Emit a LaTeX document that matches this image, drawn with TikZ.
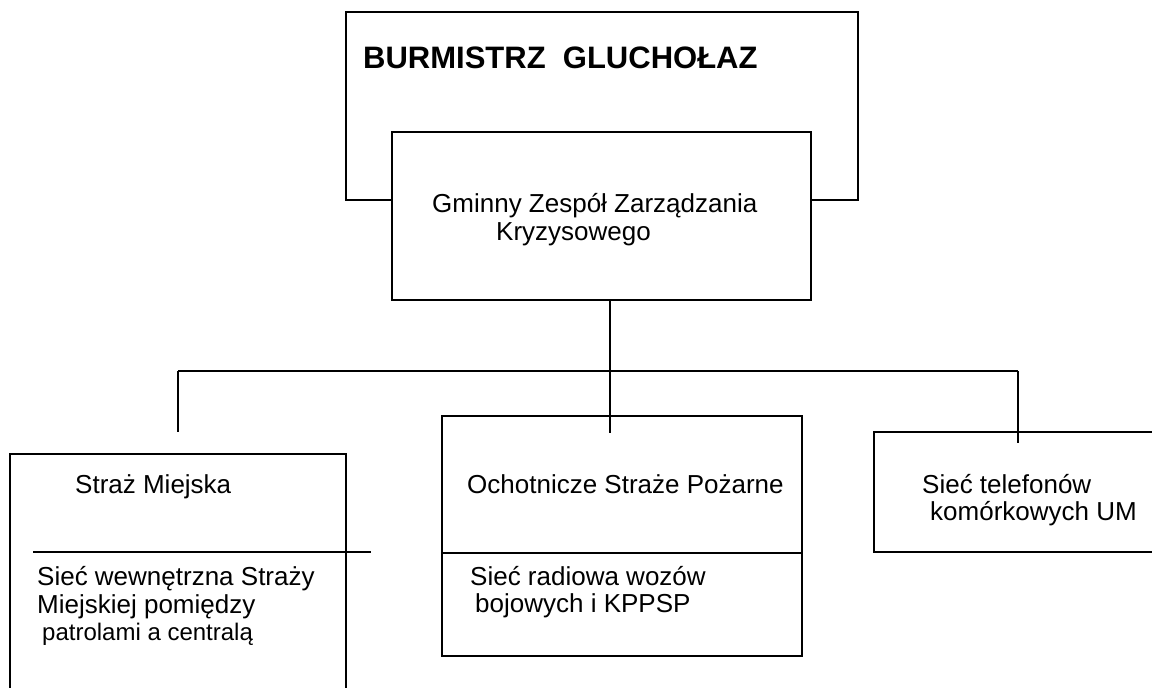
\documentclass[tikz,border=0pt]{standalone}
\usepackage{fontspec}
\setmainfont{Liberation Sans}
\begin{document}
\begin{tikzpicture}[x=1pt,y=-1pt,
  ln/.style={line width=2pt,black},
  boxn/.style={draw,line width=2pt,rectangle,inner sep=0pt,outer sep=0pt,anchor=north west},
  txt/.style={anchor=base west,inner sep=0pt,font=\fontsize{26}{30}\selectfont},
  txts/.style={anchor=base west,inner sep=0pt,font=\fontsize{24}{28}\selectfont},
  ttl/.style={anchor=base west,inner sep=0pt,font=\fontsize{31}{36}\selectfont\bfseries}]
\useasboundingbox (0,0) rectangle (1152,688);
\clip (0,0) rectangle (1152,688);
% top boxes
\node[boxn,minimum width=512pt,minimum height=188pt] (burm) at (346,12) {};
\node[boxn,fill=white,minimum width=419pt,minimum height=168pt] (zzk) at (392,132) {};
\node[ttl] (burmt) at (363,68) {BURMISTRZ\ \ GLUCHOŁAZ};
\node[txt] (zzkt1) at (432,212) {Gminny Zespół Zarządzania};
\node[txt] (zzkt2) at (496,240) {Kryzysowego};
% bottom boxes
\node[boxn,minimum width=336pt,minimum height=260pt] (sm) at (10,454) {};
\node[boxn,minimum width=360pt,minimum height=240pt] (osp) at (442,416) {};
\node[boxn,minimum width=300pt,minimum height=120pt] (tel) at (874,432) {};
% connectors
\coordinate (hub) at (610,371);
\coordinate (eL) at (178,432);
\coordinate (eM) at (610,433);
\coordinate (eR) at (1018,443);
\draw[ln] (hub |- zzk.south) -- (eM);
\draw[ln] (eL |- hub) -- (eR |- hub);
\draw[ln] (eL |- hub) -- (eL);
\draw[ln] (eR |- hub) -- (eR);
% dividers
\coordinate (dL1) at (33,552);
\coordinate (dL2) at (371,552);
\draw[ln] (dL1) -- (dL2);
\draw[ln] (osp.west |- 0,553) -- (osp.east |- 0,553);
% texts
\node[txt] (smt) at (75,493) {Straż Miejska};
\node[txt] (smt1) at (37,585) {Sieć wewnętrzna Straży};
\node[txt] (smt2) at (37,613) {Miejskiej pomiędzy};
\node[txts] (smt3) at (42,640) {patrolami a centralą};
\node[txt] (ospt) at (467,493) {Ochotnicze Straże Pożarne};
\node[txt] (ospt1) at (470,585) {Sieć radiowa wozów};
\node[txt] (ospt2) at (475,612) {bojowych i KPPSP};
\node[txt] (telt1) at (922,493) {Sieć telefonów};
\node[txt] (telt2) at (930,520) {komórkowych UM};
\end{tikzpicture}
\end{document}
